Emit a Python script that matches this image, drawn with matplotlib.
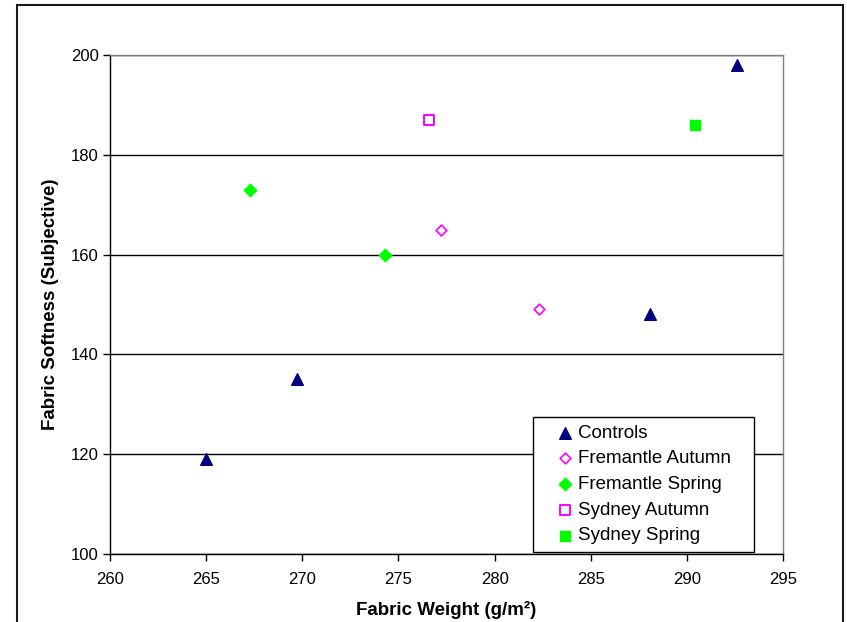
import matplotlib
matplotlib.use("Agg")
import matplotlib.pyplot as plt
from matplotlib.patches import Rectangle

plt.rcParams['font.family'] = ['Liberation Sans', 'DejaVu Sans']

controls_x = [265.0, 269.7, 288.1, 292.6]
controls_y = [119, 135, 148, 198]
fre_aut_x = [277.2, 282.3]
fre_aut_y = [165, 149]
fre_spr_x = [267.3, 274.3]
fre_spr_y = [173, 160]
syd_aut_x = [276.6]
syd_aut_y = [187]
syd_spr_x = [290.4]
syd_spr_y = [186]

x_ticks = [260, 265, 270, 275, 280, 285, 290, 295]
y_ticks = [100, 120, 140, 160, 180, 200]

W, H = 847, 622
fig = plt.figure(figsize=(W / 100, H / 100), dpi=100)
ax = fig.add_axes([110 / W, 1 - 554 / H, (783 - 110) / W, (554 - 55) / H])

# outer chart frame
fig.patches.append(Rectangle((17 / W, -0.02), (843 - 17) / W, 1 - 5 / H + 0.02,
                             transform=fig.transFigure, fill=False,
                             edgecolor='#1a1a1a', linewidth=1.5, clip_on=False))

ax.set_xlim(260, 295)
ax.set_ylim(100, 200)
ax.set_xticks(x_ticks)
ax.set_yticks(y_ticks)
ax.yaxis.grid(True, color='black', linewidth=1.0)
ax.set_axisbelow(True)

ax.scatter(controls_x, controls_y, marker='^', s=70, color='#000080', label='Controls', zorder=3)
ax.scatter(fre_aut_x, fre_aut_y, marker='D', s=30, facecolor='white', edgecolor='#FF00FF',
           linewidth=1.2, label='Fremantle Autumn', zorder=3)
ax.scatter(fre_spr_x, fre_spr_y, marker='D', s=40, color='#00FF00', label='Fremantle Spring', zorder=3)
ax.scatter(syd_aut_x, syd_aut_y, marker='s', s=45, facecolor='white', edgecolor='#FF00FF',
           linewidth=1.4, label='Sydney Autumn', zorder=3)
ax.scatter(syd_spr_x, syd_spr_y, marker='s', s=50, color='#00FF00', label='Sydney Spring', zorder=3)

for s in ['left', 'bottom']:
    ax.spines[s].set_color('black')
    ax.spines[s].set_linewidth(1.0)
for s in ['top', 'right']:
    ax.spines[s].set_color('#808080')
    ax.spines[s].set_linewidth(1.0)

ax.tick_params(axis='both', direction='out', length=5, width=1, labelsize=12, colors='black')
ax.tick_params(axis='x', pad=8)
ax.tick_params(axis='y', pad=3)

ax.set_xlabel('Fabric Weight (g/m²)', fontsize=13.5, fontweight='bold', labelpad=10)
ax.set_ylabel('Fabric Softness (Subjective)', fontsize=13.5, fontweight='bold', labelpad=9)

leg = ax.legend(loc='lower left', bbox_to_anchor=(533 / W, 1 - 552 / H, 221 / W, 134 / H),
                bbox_transform=fig.transFigure, borderaxespad=0, mode='expand', fontsize=13.5,
                frameon=True, fancybox=False, edgecolor='black', framealpha=1,
                labelspacing=0.46, handletextpad=-0.6, handlelength=2.6,
                borderpad=0.4, scatterpoints=1)
leg.get_frame().set_linewidth(1.0)

fig.savefig('out.png', dpi=100)
